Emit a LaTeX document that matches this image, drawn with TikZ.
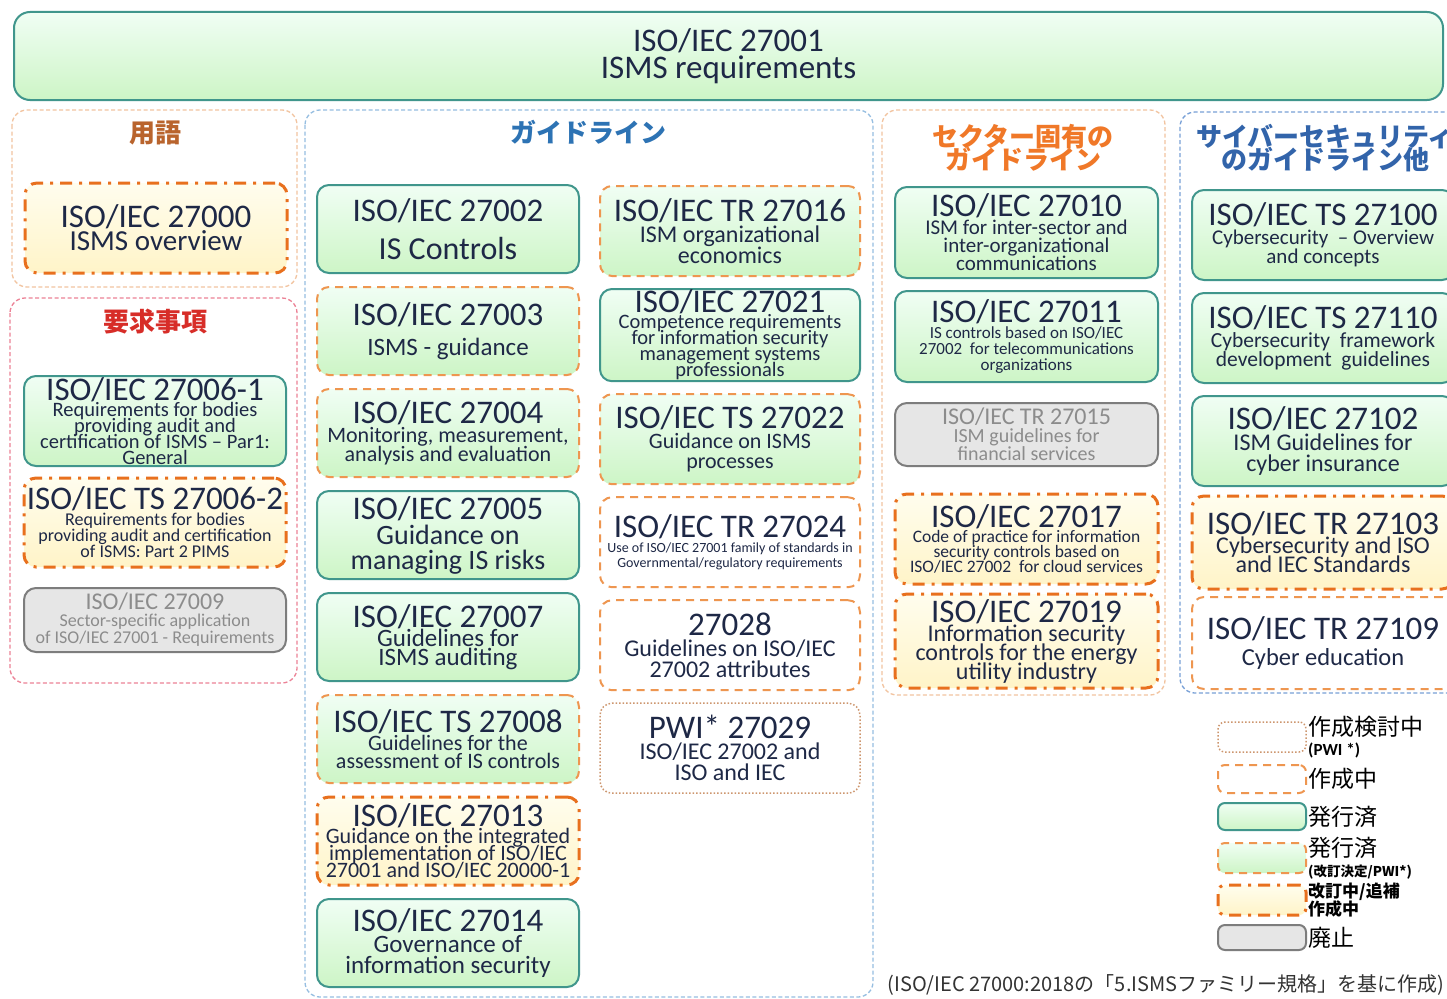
\documentclass[tikz,border=0pt]{standalone}
\usepackage{fontspec}
\setmainfont{Carlito}
\newfontfamily\jpfont{Noto Sans CJK JP}
\usetikzlibrary{positioning}

\definecolor{ink}{RGB}{30,40,70}
\definecolor{tealline}{RGB}{64,150,140}
\definecolor{mintA}{RGB}{240,254,244}
\definecolor{mintB}{RGB}{205,245,198}
\definecolor{creamA}{RGB}{255,253,238}
\definecolor{creamB}{RGB}{255,244,200}
\definecolor{orangeL}{RGB}{238,150,80}
\definecolor{orangeD}{RGB}{232,112,30}
\definecolor{dotline}{RGB}{205,150,110}
\definecolor{grayline}{RGB}{125,125,125}
\definecolor{grayfill}{RGB}{230,230,230}
\definecolor{graytext}{RGB}{140,140,140}
\definecolor{peach}{RGB}{242,196,160}
\definecolor{pinkline}{RGB}{236,130,150}
\definecolor{skyline}{RGB}{150,190,225}
\definecolor{blueline}{RGB}{120,160,215}
\definecolor{hdbrown}{RGB}{185,100,45}
\definecolor{hdred}{RGB}{215,45,40}
\definecolor{hdblue}{RGB}{45,115,180}
\definecolor{hdorange}{RGB}{240,120,40}
\definecolor{hdnavy}{RGB}{50,100,170}

\newcommand\stdno[2][33]{{\fontsize{#1}{#1}\selectfont #2}}

\tikzset{
  fs/.style 2 args={font={\fontsize{#1}{#2}\selectfont\lineskiplimit=-50pt}},
  stdbox/.style={rounded corners=12pt, minimum width=262pt, minimum height=90pt,
    inner sep=1pt, outer sep=0pt, align=center, text=ink, line width=2pt},
  issued/.style={stdbox, draw=tealline, top color=mintA, bottom color=mintB},
  issuedrev/.style={stdbox, draw=orangeL, dash pattern=on 8pt off 6pt,
    top color=mintA, bottom color=mintB},
  drafting/.style={stdbox, draw=orangeL, dash pattern=on 8pt off 6pt, fill=white},
  proposal/.style={stdbox, draw=dotline, line width=1.5pt, dash pattern=on 1.5pt off 2pt, fill=white},
  revising/.style={stdbox, draw=orangeD, line width=3pt,
    dash pattern=on 12pt off 7pt on 3pt off 7pt, top color=creamA, bottom color=creamB},
  withdrawn/.style={stdbox, draw=grayline, fill=grayfill, text=graytext},
  grp/.style={rounded corners=15pt, line width=1.3pt, dash pattern=on 4pt off 2.5pt},
  hd/.style={font={\jpfont\bfseries\fontsize{26}{23}\selectfont\lineskiplimit=-50pt}, align=center},
  lg/.style={minimum width=88pt, minimum height=28pt, rounded corners=7pt},
  lgtext/.style={font={\jpfont\fontsize{23}{20}\selectfont\lineskiplimit=-50pt}, align=left,
    anchor=west, inner sep=1pt, text=black}
}

\begin{document}
\begin{tikzpicture}[x=1pt, y=-1pt]
  \useasboundingbox[fill=white] (0,0) rectangle (1447,998);

  % group frames
  \draw[grp, draw=peach] (12,110) rectangle (297,287);
  \draw[grp, draw=pinkline] (10,298) rectangle (297,683);
  \draw[grp, draw=skyline] (305,110) rectangle (873,997);
  \draw[grp, draw=peach] (882,110) rectangle (1165,695);
  \draw[grp, draw=blueline] (1180,112) rectangle (1470,693);

  % top
  \node[issued, fs={33}{27}, minimum width=1429pt, minimum height=88pt,
    rounded corners=16pt, anchor=north west] (n27001) at (14,12)
    {ISO/IEC 27001\\ISMS requirements};

  % headers
  \node[hd, text=hdbrown] (hterm) at (155,133) {用語};
  \node[hd, text=hdred] (hreq) at (155,322) {要求事項};
  \node[hd, text=hdblue] (hguide) at (588,132) {ガイドライン};
  \node[hd, text=hdorange] (hsector) at (1023,148) {セクター固有の\\ガイドライン};
  \node[hd, text=hdnavy] (hcyber) at (1325,148) {サイバーセキュリティ\\のガイドライン他};

  % terms / requirements
  \node[revising, fs={29}{23}, anchor=north west] (n27000) at (25,183)
    {\stdno{ISO/IEC 27000}\\ISMS overview};
  \node[issued, fs={20.5}{16}, anchor=north west] (n27006a) at (24,376)
    {\stdno{ISO/IEC 27006-1}\\Requirements for bodies\\providing audit and\\certification of ISMS -- Par1:\\General};
  \node[revising, fs={18}{16}, minimum height=89pt, below=12pt of n27006a] (n27006b)
    {\stdno{ISO/IEC TS 27006-2}\\Requirements for bodies\\providing audit and certification\\of ISMS: Part 2 PIMS};
  \node[withdrawn, fs={18}{17}, minimum height=64pt, below=21pt of n27006b] (n27009)
    {\stdno[24]{ISO/IEC 27009}\\Sector-specific application\\of ISO/IEC 27001 - Requirements};

  % guidelines, left column
  \node[issued, fs={32}{38}, minimum height=88pt, anchor=north west] (n27002) at (317,185)
    {\stdno{ISO/IEC 27002}\\IS Controls};
  \node[issuedrev, fs={25}{30}, minimum height=88pt, below=14pt of n27002] (n27003)
    {\stdno{ISO/IEC 27003}\\ISMS - guidance};
  \node[issuedrev, fs={22}{19}, minimum height=88pt, below=14pt of n27003] (n27004)
    {\stdno{ISO/IEC 27004}\\Monitoring, measurement,\\analysis and evaluation};
  \node[issued, fs={28}{25}, minimum height=88pt, below=14pt of n27004] (n27005)
    {\stdno{ISO/IEC 27005}\\Guidance on\\managing IS risks};
  \node[issued, fs={25}{19}, minimum height=88pt, below=14pt of n27005] (n27007)
    {\stdno{ISO/IEC 27007}\\Guidelines for\\ISMS auditing};
  \node[issuedrev, fs={22}{18}, minimum height=88pt, below=14pt of n27007] (n27008)
    {\stdno{ISO/IEC TS 27008}\\Guidelines for the\\assessment of IS controls};
  \node[revising, fs={22}{17}, minimum height=88pt, below=14pt of n27008] (n27013)
    {\stdno{ISO/IEC 27013}\\Guidance on the integrated\\implementation of ISO/IEC\\27001 and ISO/IEC 20000-1};
  \node[issued, fs={25}{21}, minimum height=88pt, below=14pt of n27013] (n27014)
    {\stdno{ISO/IEC 27014}\\Governance of\\information security};

  % guidelines, right column
  \node[issuedrev, fs={24}{21}, minimum width=260pt, anchor=north west] (n27016) at (600,186)
    {\stdno{ISO/IEC TR 27016}\\ISM organizational\\economics};
  \node[issued, fs={20.5}{16}, minimum width=260pt, below=13pt of n27016] (n27021)
    {\stdno{ISO/IEC 27021}\\Competence requirements\\for information security\\management systems\\professionals};
  \node[issuedrev, fs={22}{20}, minimum width=260pt, below=13pt of n27021] (n27022)
    {\stdno{ISO/IEC TS 27022}\\Guidance on ISMS\\processes};
  \node[drafting, fs={14}{15}, minimum width=260pt, below=13pt of n27022] (n27024)
    {\stdno{ISO/IEC TR 27024}\\Use of ISO/IEC 27001 family of standards in\\Governmental/regulatory requirements};
  \node[drafting, fs={24}{21}, minimum width=260pt, below=13pt of n27024] (n27028)
    {\stdno{27028}\\Guidelines on ISO/IEC\\27002 attributes};
  \node[proposal, fs={24}{21}, minimum width=260pt, below=13pt of n27028] (n27029)
    {\stdno{PWI* 27029}\\ISO/IEC 27002 and\\ISO and IEC};

  % sector specific
  \node[issued, fs={21}{18}, minimum width=263pt, minimum height=91pt, anchor=north west] (n27010) at (895,187)
    {\stdno{ISO/IEC 27010}\\ISM for inter-sector and\\inter-organizational\\communications};
  \node[issued, fs={17}{16}, minimum width=263pt, minimum height=91pt, below=13pt of n27010] (n27011)
    {\stdno{ISO/IEC 27011}\\IS controls based on ISO/IEC\\27002 \ for telecommunications\\organizations};
  \node[withdrawn, fs={20}{18}, minimum width=263pt, minimum height=63pt, below=21pt of n27011] (n27015)
    {\stdno[24]{ISO/IEC TR 27015}\\ISM guidelines for\\financial services};
  \node[revising, fs={17.5}{15}, minimum width=263pt, below=28pt of n27015] (n27017)
    {\stdno{ISO/IEC 27017}\\Code of practice for information\\security controls based on\\ISO/IEC 27002 \ for cloud services};
  \node[revising, fs={24}{19}, minimum width=263pt, minimum height=94pt, below=10pt of n27017] (n27019)
    {\stdno{ISO/IEC 27019}\\Information security\\controls for the energy\\utility industry};

  % cybersecurity
  \node[issued, fs={21}{19}, anchor=north west] (n27100) at (1192,190)
    {\stdno{ISO/IEC TS 27100}\\Cybersecurity \ -- Overview\\and concepts};
  \node[issued, fs={21.5}{19}, below=13pt of n27100] (n27110)
    {\stdno{ISO/IEC TS 27110}\\Cybersecurity \ framework\\development \ guidelines};
  \node[issued, fs={24}{21}, below=13pt of n27110] (n27102)
    {\stdno{ISO/IEC 27102}\\ISM Guidelines for\\cyber insurance};
  \node[revising, fs={24}{19}, minimum height=93pt, below=10pt of n27102] (n27103)
    {\stdno{ISO/IEC TR 27103}\\Cybersecurity and ISO\\and IEC Standards};
  \node[drafting, fs={24.5}{26}, minimum height=92pt, below=8pt of n27103] (n27109)
    {\stdno{ISO/IEC TR 27109}\\Cyber education};

  % legend
  \node[proposal, lg, minimum height=30pt, anchor=north west] (lgA) at (1218,722) {};
  \node[drafting, lg, below=13pt of lgA] (lgB) {};
  \node[issued, lg, minimum height=27pt, below=10pt of lgB] (lgC) {};
  \node[issuedrev, lg, minimum height=30pt, below=13pt of lgC] (lgD) {};
  \node[revising, lg, minimum height=30pt, below=12pt of lgD] (lgE) {};
  \node[withdrawn, lg, minimum height=25pt, below=10pt of lgE] (lgF) {};
  \node[lgtext, right=1pt of lgA] (lgAt) {作成検討中\\{\rmfamily\bfseries\fontsize{17}{17}\selectfont (PWI *)}};
  \node[lgtext, right=1pt of lgB] (lgBt) {作成中};
  \node[lgtext, right=1pt of lgC] (lgCt) {発行済};
  \node[lgtext, right=1pt of lgD] (lgDt) {発行済\\{\bfseries\fontsize{13.5}{13.5}\selectfont (改訂決定/PWI*)}};
  \node[lgtext, right=1pt of lgE, font={\jpfont\bfseries\fontsize{17}{18}\selectfont\lineskiplimit=-50pt}] (lgEt) {改訂中/追補\\作成中};
  \node[lgtext, right=1pt of lgF] (lgFt) {廃止};

  % source
  \node[font={\jpfont\fontsize{20}{20}\selectfont}, text=black!80] (src) at (1166,985)
    {(ISO/IEC 27000:2018の「5.ISMSファミリー規格」を基に作成)};
\end{tikzpicture}
\end{document}
